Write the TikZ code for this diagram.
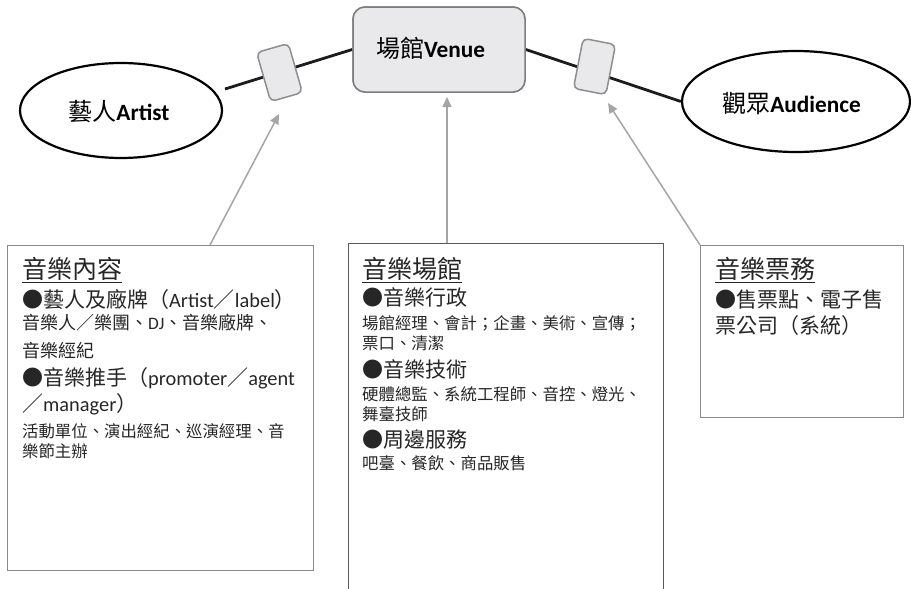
\documentclass[tikz,border=0pt]{standalone}
\usepackage{fontspec}
\setmainfont{Noto Sans CJK TC}
\newfontfamily\lat{Carlito}[Scale=0.97]
\usetikzlibrary{arrows.meta,shapes.geometric,calc}
\definecolor{boxfill}{HTML}{E9E9EB}
\definecolor{smallborder}{HTML}{8E8E8E}
\definecolor{venueborder}{HTML}{7D7D7D}
\definecolor{arrowgray}{HTML}{A5A5A5}
\definecolor{linkblack}{HTML}{1C1C1C}
\definecolor{textgray}{HTML}{262626}
\definecolor{panelA}{HTML}{8A8A8A}
\definecolor{panelB}{HTML}{5A5A5A}
\tikzset{
  ovalnode/.style={ellipse, draw=black, line width=2.2pt, fill=white, inner sep=0pt},
  venuebox/.style={rectangle, rounded corners=12pt, draw=venueborder, fill=boxfill, line width=1.5pt, inner sep=0pt},
  connbox/.style={rectangle, rounded corners=5pt, draw=smallborder, fill=boxfill, line width=1.5pt, minimum width=33pt, minimum height=51pt, inner sep=0pt},
  link/.style={line width=2.8pt, draw=linkblack},
  feed/.style={draw=arrowgray, line width=1.5pt, -{Triangle[length=10pt,width=9pt]}},
  panel/.style={rectangle, line width=1.3pt, inner sep=0pt, anchor=north west},
  lbl/.style={anchor=base, inner sep=0pt, text=black, font=\fontsize{24}{24}\selectfont},
  txt/.style={anchor=base west, inner sep=0pt, text=textgray},
  ttl/.style={txt, font=\fontsize{25}{25}\selectfont},
  bul/.style={txt, font=\fontsize{21}{21}\selectfont},
  det/.style={txt, font=\fontsize{16.4}{16.4}\selectfont},
  detbig/.style={txt, font=\fontsize{18}{18}\selectfont},
  uline/.style={draw=textgray, line width=1.3pt}
}
\begin{document}
\begin{tikzpicture}[x=1pt,y=-1pt]
\useasboundingbox (0,0) rectangle (911,589);
\clip (0,0) rectangle (911,589);

% top nodes
\node[ovalnode, minimum width=202pt, minimum height=95pt] (artist) at (121,110.5) {};
\node[ovalnode, minimum width=228pt, minimum height=101pt] (audience) at (796,101.5) {};
\node[venuebox, minimum width=172pt, minimum height=85pt] (venue) at (439,49.5) {};

\coordinate (artistend) at (225,89);
\draw[link] (artistend) -- (venue.west);
\draw[link] (venue.east) -- (audience.west);
\node[venuebox, minimum width=172pt, minimum height=85pt] at (venue.center) {};

\node[connbox, rotate=16] (gateL) at (279.5,72.5) {};
\node[connbox, rotate=-11] (gateR) at (594.5,66.5) {};

\node[lbl] (artistlbl) at (119,120) {藝人{\lat\bfseries Artist}};
\node[lbl] (venuelbl) at (430.5,57) {場館{\lat\bfseries Venue}};
\node[lbl] (audiencelbl) at (791.5,112) {觀眾{\lat\bfseries Audience}};

% panels
\node[panel, draw=panelA, minimum width=306pt, minimum height=325pt] (box1) at (7,245) {};
\node[panel, draw=panelB, minimum width=315pt, minimum height=360pt] (box2) at (348,243) {};
\node[panel, draw=panelA, minimum width=203pt, minimum height=172pt] (box3) at (700,245) {};

% arrows
\coordinate (tipL) at (279,114);
\coordinate (tipM) at (447,97);
\coordinate (tipR) at (608,103);
\draw[feed] ([xshift=203pt]box1.north west) -- (tipL);
\draw[feed] ([xshift=99pt]box2.north west) -- (tipM);
\draw[feed] (box3.north west) -- (tipR);

% box 1 text
\node[ttl] (b1t) at (22,278) {音樂內容};
\draw[uline] ([yshift=-4.5pt]b1t.base west) -- ([yshift=-4.5pt]b1t.base east);
\node[bul] (b1a) at (22,307) {●藝人及廠牌（{\lat Artist}／{\lat label}）};
\node[detbig] (b1b) at (22,329) {音樂人／樂團、{\lat DJ}、音樂廠牌、};
\node[detbig] (b1c) at (22,357) {音樂經紀};
\node[bul] (b1d) at (22,385) {●音樂推手（{\lat promoter}／{\lat agent}};
\node[bul] (b1e) at (22,411) {／{\lat manager}）};
\node[det] (b1f) at (22,437) {活動單位、演出經紀、巡演經理、音};
\node[det] (b1g) at (22,457) {樂節主辦};

% box 2 text
\node[ttl] (b2t) at (362,278) {音樂場館};
\draw[uline] ([yshift=-4.5pt]b2t.base west) -- ([yshift=-4.5pt]b2t.base east);
\node[bul] (b2a) at (362,305) {●音樂行政};
\node[det] (b2b) at (362,329) {場館經理、會計；企畫、美術、宣傳；};
\node[det] (b2c) at (362,349) {票口、清潔};
\node[bul] (b2d) at (362,377) {●音樂技術};
\node[det] (b2e) at (362,400) {硬體總監、系統工程師、音控、燈光、};
\node[det] (b2f) at (362,420) {舞臺技師};
\node[bul] (b2g) at (362,447) {●周邊服務};
\node[det] (b2h) at (362,469) {吧臺、餐飲、商品販售};

% box 3 text
\node[ttl] (b3t) at (715,278) {音樂票務};
\draw[uline] ([yshift=-4.5pt]b3t.base west) -- ([yshift=-4.5pt]b3t.base east);
\node[bul] (b3a) at (715,307) {●售票點、電子售};
\node[bul] (b3b) at (715,333) {票公司（系統）};
\end{tikzpicture}
\end{document}
